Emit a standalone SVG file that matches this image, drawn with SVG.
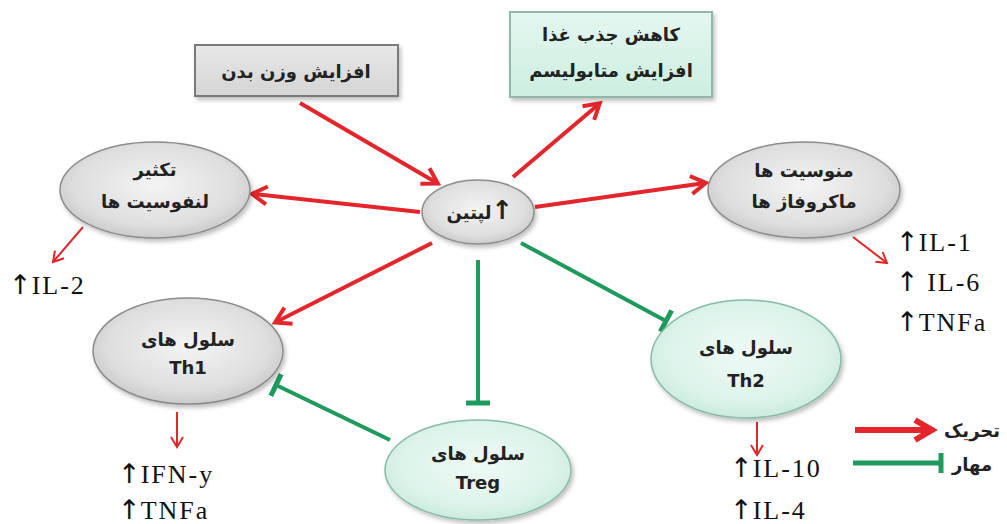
<svg xmlns="http://www.w3.org/2000/svg" width="1007" height="524" viewBox="0 0 1007 524">
<defs>
  <radialGradient id="gGray" cx="0.5" cy="0.45" r="0.6">
    <stop offset="0" stop-color="#f4f4f4"/>
    <stop offset="0.7" stop-color="#dedede"/>
    <stop offset="1" stop-color="#c4c4c4"/>
  </radialGradient>
  <radialGradient id="gTeal" cx="0.5" cy="0.45" r="0.6">
    <stop offset="0" stop-color="#eefaf5"/>
    <stop offset="0.7" stop-color="#dcf3ea"/>
    <stop offset="1" stop-color="#c4e8da"/>
  </radialGradient>
  <linearGradient id="bGray" x1="0" y1="0" x2="0" y2="1">
    <stop offset="0" stop-color="#e8e8e8"/>
    <stop offset="1" stop-color="#d4d4d4"/>
  </linearGradient>
  <linearGradient id="bTeal" x1="0" y1="0" x2="0" y2="1">
    <stop offset="0" stop-color="#e4f6ef"/>
    <stop offset="1" stop-color="#cdeee1"/>
  </linearGradient>
  <filter id="sh" x="-20%" y="-20%" width="140%" height="150%">
    <feDropShadow dx="2" dy="3" stdDeviation="2" flood-color="#000" flood-opacity="0.25"/>
  </filter>
  <marker id="ar" viewBox="0 0 22 22" refX="17" refY="11" markerWidth="22" markerHeight="22" markerUnits="userSpaceOnUse" orient="auto">
    <path d="M3,2 L18,11 L3,20" fill="none" stroke="#e3262b" stroke-width="4"/>
  </marker>
  <marker id="ars" viewBox="0 0 14 14" refX="12" refY="7" markerWidth="14" markerHeight="14" markerUnits="userSpaceOnUse" orient="auto">
    <path d="M2,1 L12,7 L2,13" fill="none" stroke="#e3262b" stroke-width="2"/>
  </marker>
  <marker id="tb" viewBox="0 0 6 24" refX="3" refY="12" markerWidth="6" markerHeight="24" markerUnits="userSpaceOnUse" orient="auto">
    <path d="M3,0 V24" stroke="#1e9a5c" stroke-width="5"/>
  </marker>
</defs>
<style>
  .ell { fill: url(#gGray); stroke: #8c8c8c; stroke-width: 1.5; filter: url(#sh); }
  .ellt { fill: url(#gTeal); stroke: #86bba6; stroke-width: 1.5; filter: url(#sh); }
  .box { fill: url(#bGray); stroke: #7a7a7a; stroke-width: 2; filter: url(#sh); }
  .boxt { fill: url(#bTeal); stroke: #8fb8a8; stroke-width: 2; filter: url(#sh); }
  .fa { font-family: "DejaVu Sans", sans-serif; font-weight: bold; font-size: 18px; fill: #222; text-anchor: middle; }
  .en { font-family: "DejaVu Sans", sans-serif; font-weight: bold; font-size: 18px; fill: #222; text-anchor: middle; }
  .il { font-family: "Liberation Serif", serif; font-size: 26px; fill: #111; letter-spacing: 2px; }
  .up { font-family: "DejaVu Sans", sans-serif; font-size: 27px; letter-spacing: 0; }
  .red { stroke: #e3262b; stroke-width: 4; fill: none; marker-end: url(#ar); }
  .reds { stroke: #e3262b; stroke-width: 2; fill: none; marker-end: url(#ars); }
  .grn { stroke: #1e9a5c; stroke-width: 4; fill: none; marker-end: url(#tb); }
</style>
<rect width="1007" height="524" fill="#fff"/>

<g id="connectors">
  <line class="red" x1="300" y1="103" x2="437" y2="183"/>
  <line class="red" x1="513" y1="177" x2="599" y2="104"/>
  <line class="red" x1="420" y1="212" x2="253" y2="194"/>
  <line class="red" x1="535" y1="207" x2="705" y2="183"/>
  <line class="red" x1="432" y1="243" x2="276" y2="322"/>
  <line class="grn" x1="478" y1="260" x2="478" y2="403"/>
  <line class="grn" x1="521" y1="243" x2="666" y2="321"/>
  <line class="grn" x1="390" y1="440" x2="276" y2="385"/>
  <line class="reds" x1="83" y1="227" x2="53" y2="262"/>
  <line class="reds" x1="853" y1="237" x2="887" y2="263"/>
  <line class="reds" x1="177" y1="412" x2="177" y2="447"/>
  <line class="reds" x1="757" y1="422" x2="757" y2="455"/>
</g>

<g id="box-weight">
  <rect class="box" x="195" y="45" width="203" height="51"/>
  <text class="fa" x="296" y="78">افزایش وزن بدن</text>
</g>

<g id="box-metabolism">
  <rect class="boxt" x="510" y="12" width="202" height="85"/>
  <text class="fa" x="611" y="41">کاهش جذب غذا</text>
  <text class="fa" x="611" y="77">افزایش متابولیسم</text>
</g>

<g id="leptin">
  <ellipse class="ell" cx="478" cy="212" rx="56" ry="32"/>
  <text class="fa" x="480" y="219" font-size="19">لپتین<tspan font-size="26">↑</tspan></text>
</g>

<g id="lymphocytes">
  <ellipse class="ell" cx="155" cy="190" rx="95" ry="48"/>
  <text class="fa" x="155" y="176">تکثیر</text>
  <text class="fa" x="155" y="208">لنفوسیت ها</text>
</g>

<g id="monocytes">
  <ellipse class="ell" cx="804" cy="190" rx="96" ry="48"/>
  <text class="fa" x="804" y="177">منوسیت ها</text>
  <text class="fa" x="804" y="208">ماکروفاژ ها</text>
</g>

<g id="th1">
  <ellipse class="ell" cx="188" cy="351" rx="95" ry="53"/>
  <text class="fa" x="188" y="346">سلول های</text>
  <text class="en" x="188" y="374">Th1</text>
</g>

<g id="th2">
  <ellipse class="ellt" cx="746" cy="359" rx="95" ry="59"/>
  <text class="fa" x="746" y="354">سلول های</text>
  <text class="en" x="746" y="387">Th2</text>
</g>

<g id="treg">
  <ellipse class="ellt" cx="478" cy="470" rx="93" ry="50"/>
  <text class="fa" x="478" y="460">سلول های</text>
  <text class="en" x="478" y="489">Treg</text>
</g>

<g id="cytokines">
  <text class="il" x="9" y="294"><tspan class="up">↑</tspan>IL-2</text>
  <text class="il" x="896" y="251"><tspan class="up">↑</tspan>IL-1</text>
  <text class="il" x="896" y="291"><tspan class="up">↑</tspan> IL-6</text>
  <text class="il" x="896" y="331"><tspan class="up">↑</tspan>TNFa</text>
  <text class="il" x="118" y="483"><tspan class="up">↑</tspan>IFN-y</text>
  <text class="il" x="118" y="519"><tspan class="up">↑</tspan>TNFa</text>
  <text class="il" x="730" y="477"><tspan class="up">↑</tspan>IL-10</text>
  <text class="il" x="730" y="519"><tspan class="up">↑</tspan>IL-4</text>
</g>

<g id="legend">
  <line x1="855" y1="430" x2="928" y2="430" stroke="#e3262b" stroke-width="6"/>
  <path d="M915,420 L932,430 L915,440" fill="none" stroke="#e3262b" stroke-width="6"/>
  <line x1="853" y1="463" x2="940" y2="463" stroke="#1e9a5c" stroke-width="5"/>
  <line x1="941" y1="453" x2="941" y2="473" stroke="#1e9a5c" stroke-width="5"/>
  <text class="fa" x="972" y="437">تحریک</text>
  <text class="fa" x="972" y="471">مهار</text>
</g>
</svg>
